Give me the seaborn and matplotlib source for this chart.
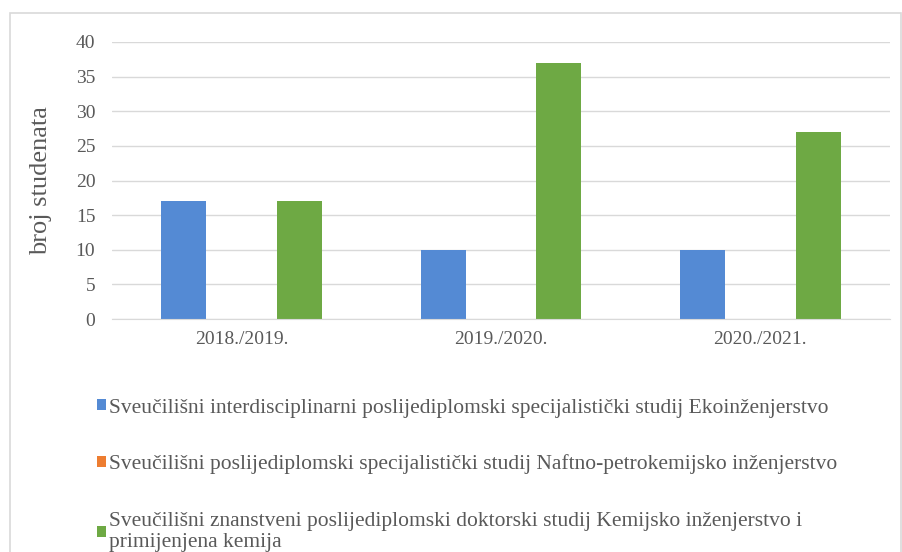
import matplotlib
matplotlib.use('Agg')

import matplotlib.pyplot as plt
from matplotlib.patches import Rectangle
import pandas as pd
import seaborn as sns

# data
years = ['2018./2019.', '2019./2020.', '2020./2021.']
programmes = [
    'Sveučilišni interdisciplinarni poslijediplomski specijalistički studij Ekoinženjerstvo',
    'Sveučilišni poslijediplomski specijalistički studij Naftno-petrokemijsko inženjerstvo',
    'Sveučilišni znanstveni poslijediplomski doktorski studij Kemijsko inženjerstvo i\nprimijenjena kemija',
]
eko = [17, 10, 10]
nafta = [0, 0, 0]
kemija = [17, 37, 27]
colors = ['#548AD4', '#ED7D31', '#6EA944']

rows = []
for prog, vals in zip(programmes, [eko, nafta, kemija]):
    for yr, v in zip(years, vals):
        rows.append({'godina': yr, 'studij': prog, 'broj': v})
df = pd.DataFrame(rows)

sns.set_style('white')
plt.rcParams['font.family'] = ['Liberation Serif', 'DejaVu Serif']

fig = plt.figure(figsize=(9.02, 5.52), dpi=100)
ax = fig.add_axes([112 / 902, 1 - 319 / 552, 778 / 902, 277 / 552])

sns.barplot(data=df, x='godina', y='broj', hue='studij', hue_order=programmes,
            palette=colors, saturation=1, width=0.668, gap=0.22, linewidth=0, ax=ax)

ax.set_ylim(0, 40)
ax.set_xlim(-0.5, 2.5)
ax.set_yticks(range(0, 41, 5))
ax.grid(axis='y', color='#D9D9D9', linewidth=1)
ax.set_axisbelow(True)
for s in ['top', 'right', 'left']:
    ax.spines[s].set_visible(False)
ax.spines['bottom'].set_color('#D9D9D9')
ax.tick_params(axis='both', length=0, labelsize=14, labelcolor='#595959')
ax.tick_params(axis='y', pad=12)
ax.tick_params(axis='x', pad=9)
ax.set_xlabel('')
ax.set_ylabel('broj studenata', fontsize=19, color='#595959')
ax.yaxis.set_label_coords(-0.077, 0.5)

handles = ax.get_legend().legend_handles
ax.get_legend().remove()
fig.legend(handles, programmes, loc='upper left', bbox_to_anchor=(0.1075, 0.278),
           frameon=False, fontsize=15.5, labelcolor='#595959', borderpad=0,
           handlelength=0.42, handleheight=0.42, handletextpad=0.12,
           labelspacing=1.72, borderaxespad=0)

# light chart-area border
fig.patches.append(Rectangle((10 / 902, -0.02), 891 / 902, 1 - 13 / 552 + 0.02,
                             transform=fig.transFigure, fill=False,
                             edgecolor='#D9D9D9', linewidth=1.2))

plt.savefig('out.png', dpi=100)
